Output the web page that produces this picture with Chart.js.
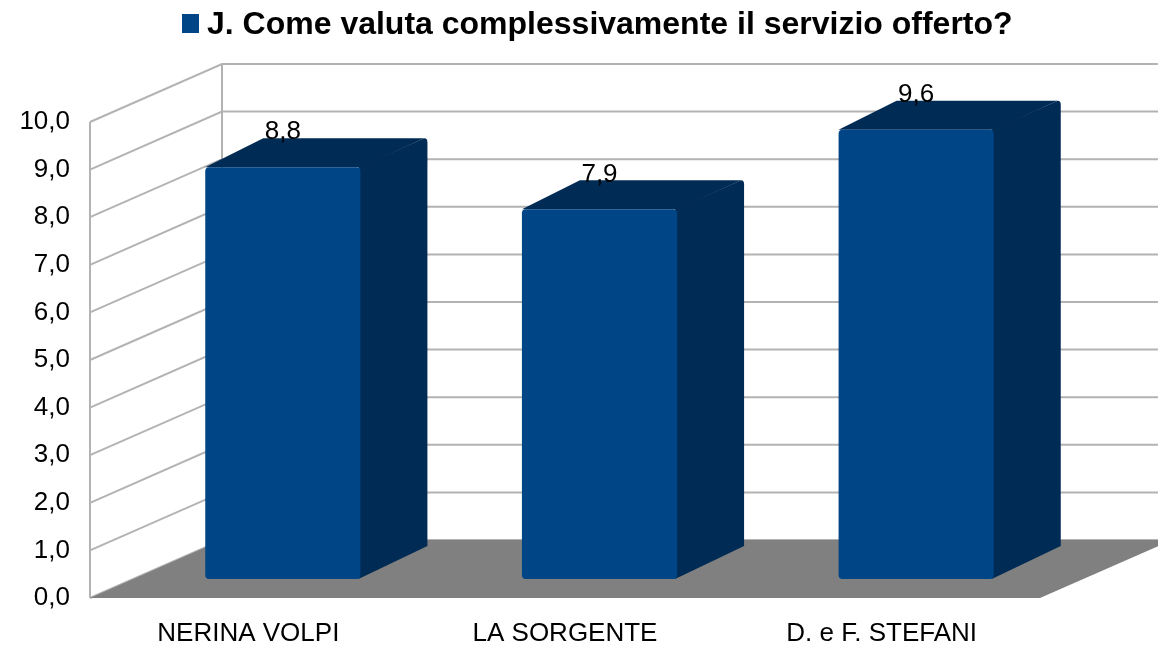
<!DOCTYPE html>
<html>
<head>
<meta charset="utf-8">
<script src="https://cdn.jsdelivr.net/npm/chart.js@4.4.0/dist/chart.umd.min.js"></script>
<style>
  html, body { margin: 0; padding: 0; background: #fff; }
  #wrap { width: 1158px; height: 646px; }
</style>
</head>
<body>
<div id="wrap"><canvas id="chart"></canvas></div>
<script>
// dati del grafico
const titolo = 'J. Come valuta complessivamente il servizio offerto?';
const strutture = ['NERINA VOLPI', 'LA SORGENTE', 'D. e F. STEFANI'];
const valori = [8.8, 7.9, 9.6];
const yMin = 0;
const yMax = 10;
const yStep = 1;

const blu = '#004586';
const bluScuro = '#002b54';
const virgola = (v) => v.toFixed(1).replace('.', ',');

// profondita' delle pareti e delle colonne
const pareteDx = 132, pareteDy = 58;
const barraSx = 34.5, barraSy = 19;
const latoDxSx = 58, latoDxDx = 67, latoDy = 29;

const scena3d = {
  id: 'scena3d',
  beforeDatasetsDraw(chart) {
    const ctx = chart.ctx;
    const y = chart.scales.y;
    const a = chart.chartArea;
    ctx.save();
    ctx.strokeStyle = '#b3b3b3';
    ctx.lineWidth = 2;
    // griglia su parete sinistra e parete di fondo
    y.ticks.forEach(t => {
      const py = y.getPixelForValue(t.value);
      ctx.beginPath();
      ctx.moveTo(a.left, py);
      ctx.lineTo(a.left + pareteDx, py - pareteDy);
      ctx.lineTo(chart.width, py - pareteDy);
      ctx.stroke();
    });
    const top = y.getPixelForValue(yMax);
    ctx.beginPath();
    ctx.moveTo(a.left, top);
    ctx.lineTo(a.left, a.bottom);
    ctx.moveTo(a.left + pareteDx, top - pareteDy);
    ctx.lineTo(a.left + pareteDx, a.bottom - pareteDy);
    ctx.stroke();
    // pavimento
    ctx.fillStyle = '#808080';
    ctx.beginPath();
    ctx.moveTo(a.left, a.bottom);
    ctx.lineTo(a.right, a.bottom);
    ctx.lineTo(a.right + pareteDx, a.bottom - pareteDy);
    ctx.lineTo(a.left + pareteDx, a.bottom - pareteDy);
    ctx.closePath();
    ctx.fill();
    ctx.restore();
  },
  beforeDatasetDraw() {
    return false;
  },
  afterDatasetsDraw(chart) {
    const ctx = chart.ctx;
    const y = chart.scales.y;
    const meta = chart.getDatasetMeta(0);
    const base = y.getPixelForValue(0);
    ctx.save();
    meta.data.forEach((bar, i) => {
      const w = bar.width;
      const h = (base - y.getPixelForValue(valori[i])) * 0.983;
      const x0 = bar.x - w / 2 + barraSx;
      const x1 = x0 + w;
      const yb = base - barraSy;
      const yt = yb - h;
      // lato destro
      ctx.fillStyle = bluScuro;
      ctx.beginPath();
      ctx.moveTo(x1 - 2, yt);
      ctx.lineTo(x1 + latoDxDx - 3, yt - latoDy);
      ctx.quadraticCurveTo(x1 + latoDxDx, yt - latoDy, x1 + latoDxDx, yt - latoDy + 4);
      ctx.lineTo(x1 + latoDxDx, yb - latoDy - 4);
      ctx.lineTo(x1 - 2, yb);
      ctx.closePath();
      ctx.fill();
      // faccia superiore
      ctx.beginPath();
      ctx.moveTo(x0, yt);
      ctx.lineTo(x0 + latoDxSx, yt - latoDy);
      ctx.lineTo(x1 + latoDxDx - 3, yt - latoDy);
      ctx.lineTo(x1, yt);
      ctx.closePath();
      ctx.fill();
      // faccia frontale
      ctx.fillStyle = blu;
      ctx.beginPath();
      ctx.roundRect(x0, yt, w, h, 4);
      ctx.fill();
      // etichetta valore
      ctx.fillStyle = '#000';
      ctx.font = '26px "Liberation Sans", Arial, sans-serif';
      ctx.textAlign = 'center';
      ctx.textBaseline = 'middle';
      ctx.fillText(virgola(valori[i]), x0 + w / 2, yt - latoDy - 6);
    });
    ctx.restore();
  },
  afterDraw(chart) {
    const ctx = chart.ctx;
    ctx.save();
    ctx.fillStyle = blu;
    ctx.fillRect(182, 14, 17, 19);
    ctx.fillStyle = '#000';
    ctx.font = 'bold 32px "Liberation Sans", Arial, sans-serif';
    ctx.textAlign = 'left';
    ctx.textBaseline = 'alphabetic';
    ctx.fillText(titolo, 207, 34);
    ctx.restore();
  }
};

new Chart(document.getElementById('chart'), {
  type: 'bar',
  data: {
    labels: strutture,
    datasets: [{
      label: titolo,
      data: valori,
      backgroundColor: blu,
      barPercentage: 0.49,
      categoryPercentage: 1.0
    }]
  },
  options: {
    responsive: true,
    maintainAspectRatio: false,
    animation: false,
    layout: { padding: { top: 122, right: 118, bottom: 0, left: 0 } },
    plugins: {
      legend: { display: false },
      tooltip: { enabled: false }
    },
    scales: {
      x: {
        grid: { display: false, drawTicks: false },
        border: { display: false },
        ticks: {
          color: '#000',
          padding: 20,
          font: { family: '"Liberation Sans", Arial, sans-serif', size: 26 }
        },
        afterFit(s) { s.height = 48; }
      },
      y: {
        min: yMin,
        max: yMax,
        grid: { display: false, drawTicks: false },
        border: { display: false },
        ticks: {
          stepSize: yStep,
          color: '#000',
          padding: 20,
          font: { family: '"Liberation Sans", Arial, sans-serif', size: 26 },
          callback: (v) => virgola(v)
        },
        afterFit(s) { s.width = 90; }
      }
    }
  },
  plugins: [scena3d]
});
</script>
</body>
</html>
